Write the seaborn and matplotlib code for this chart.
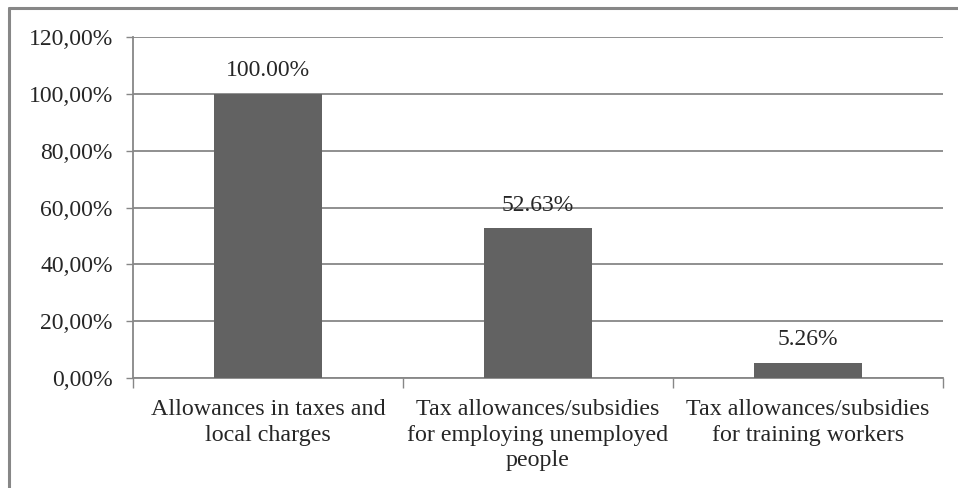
import pandas as pd
import numpy as np
import matplotlib
matplotlib.use("Agg")
import matplotlib.pyplot as plt
import seaborn as sns
from matplotlib.lines import Line2D

categories = [
    "Allowances in taxes and\nlocal charges",
    "Tax allowances/subsidies\nfor employing unemployed\npeople",
    "Tax allowances/subsidies\nfor training workers",
]
values = [100.00, 52.63, 5.26]
bar_labels = ["100.00%", "52.63%", "5.26%"]
y_ticks = [0, 20, 40, 60, 80, 100, 120]
y_tick_labels = ["0,00%", "20,00%", "40,00%", "60,00%", "80,00%", "100,00%", "120,00%"]

df = pd.DataFrame({"category": categories, "value": values})

sns.set_style("white")
plt.rcParams["font.family"] = ["Liberation Serif", "DejaVu Serif"]

fig = plt.figure(figsize=(9.58, 4.88), dpi=100)
ax = fig.add_axes([133 / 958, 1 - 378 / 488, (943 - 133) / 958, (378 - 37) / 488])

sns.barplot(data=df, x="category", y="value", color="#626262", width=0.4,
            saturation=1, linewidth=0, ax=ax, zorder=3)

ax.set_ylim(0, 120)
ax.set_xlim(-0.5, 2.5)
ax.set_yticks(y_ticks)
ax.set_yticklabels(y_tick_labels, fontsize=17)
ax.yaxis.grid(True, color="#878787", linewidth=1.3, zorder=0)
ax.set_xlabel("")
ax.set_ylabel("")

# tick marks between categories
ax.set_xticks([-0.5, 0.5, 1.5, 2.5], minor=False)
ax.set_xticklabels([])
ax.set_xticks([0, 1, 2], minor=True)
ax.set_xticklabels(categories, minor=True, fontsize=17.3, linespacing=1.3)
ax.tick_params(axis="x", which="major", length=7, width=1, color="#878787",
               direction="out", bottom=True)
ax.tick_params(axis="x", which="minor", length=0, pad=15)
ax.tick_params(axis="y", length=5, width=1, color="#878787", direction="out",
               left=True, pad=9.5)

for s in ["top", "right"]:
    ax.spines[s].set_visible(False)
for s in ["left", "bottom"]:
    ax.spines[s].set_color("#878787")
    ax.spines[s].set_linewidth(1.3)

for i, (v, lab) in enumerate(zip(values, bar_labels)):
    ax.text(i, v + 4.5, lab, ha="center", va="bottom", fontsize=17)

# outer frame (image is cropped on right/bottom)
fig.add_artist(Line2D([9 / 958, 9 / 958], [0, 1 - 8 / 488], color="#878787",
                      linewidth=2.2, transform=fig.transFigure))
fig.add_artist(Line2D([9 / 958, 1], [1 - 8 / 488, 1 - 8 / 488], color="#878787",
                      linewidth=2.2, transform=fig.transFigure))

fig.savefig("out.png", dpi=100)
